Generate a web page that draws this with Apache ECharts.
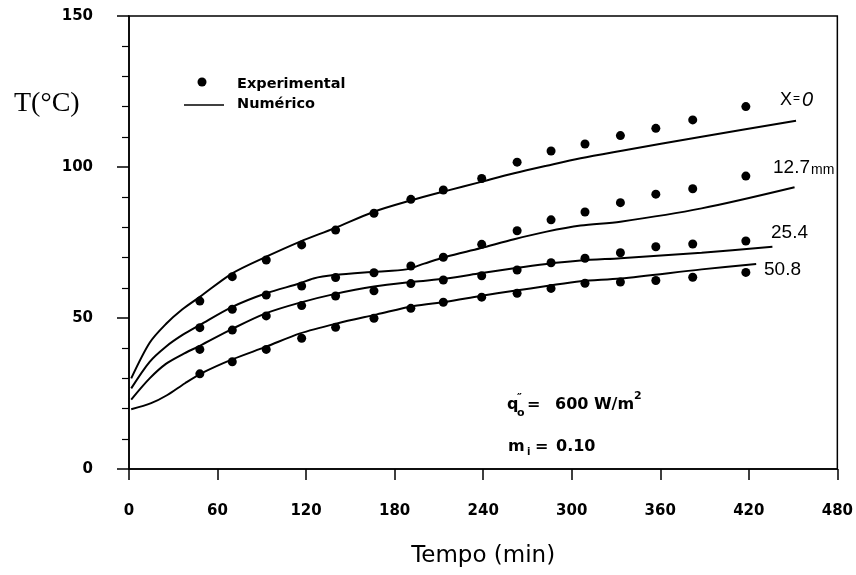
<!DOCTYPE html>
<html>
<head>
<meta charset="utf-8">
<script src="https://cdn.jsdelivr.net/npm/echarts@6/dist/echarts.min.js"></script>
<style>
  html, body { margin: 0; padding: 0; background: #fff; }
  #chart { width: 856px; height: 575px; }
</style>
</head>
<body>
<div id="chart"></div>
<script>
// Measurement times (min) of the experimental points
const expTimes = [48, 70, 93, 117, 140, 166, 191, 213, 239, 263, 286, 309, 333, 357, 382, 418];

// Experimental temperatures (°C) at each depth
const expX0   = [55.6, 63.7, 69.2, 74.2, 79.1, 84.7, 89.3, 92.4, 96.2, 101.6, 105.3, 107.6, 110.4, 112.8, 115.6, 120.0];
const exp127  = [46.8, 52.9, 57.6, 60.6, 63.4, 65.0, 67.2, 70.1, 74.4, 78.9, 82.5, 85.1, 88.2, 91.0, 92.8, 97.0];
const exp254  = [39.6, 46.0, 50.7, 54.1, 57.3, 59.0, 61.4, 62.6, 64.0, 65.9, 68.3, 69.8, 71.6, 73.6, 74.5, 75.5];
const exp508  = [31.5, 35.5, 39.6, 43.3, 46.9, 49.9, 53.2, 55.2, 56.9, 58.2, 59.8, 61.5, 61.9, 62.4, 63.5, 65.1];

// Numerical solution: times (min) and temperatures (°C) per depth
const numTimesX0  = [1.5, 14, 25, 36, 48, 70, 93, 116, 139, 166, 190, 215, 238, 261, 283, 306, 333, 388, 452];
const numX0       = [30.0, 41.8, 48.0, 52.8, 57.0, 64.8, 70.3, 75.3, 79.7, 85.2, 88.8, 92.1, 95.0, 97.9, 100.4, 102.9, 105.3, 110.0, 115.3];
const numTimes127 = [1.5, 14, 25, 36, 48, 70, 93, 116, 125, 139, 166, 188, 200, 215, 238, 261, 283, 306, 333, 388, 451];
const num127      = [26.7, 35.5, 40.5, 44.3, 47.7, 53.7, 58.2, 61.5, 63.1, 64.2, 65.3, 66.1, 68.0, 70.3, 73.1, 76.1, 78.6, 80.6, 81.9, 86.3, 93.3];
const numTimes254 = [1.5, 14, 25, 36, 48, 70, 93, 116, 139, 166, 193, 215, 238, 261, 283, 306, 333, 388, 436];
const num254      = [23.0, 30.0, 34.8, 37.9, 40.8, 46.4, 51.6, 55.1, 57.9, 60.4, 62.0, 63.1, 64.8, 66.5, 67.9, 69.0, 69.8, 71.6, 73.6];
const numTimes508 = [1.5, 15, 26, 38, 50, 70, 93, 116, 141, 168, 193, 215, 238, 261, 283, 306, 333, 388, 425];
const num508      = [19.8, 21.8, 24.5, 28.4, 31.9, 36.3, 40.5, 44.9, 48.2, 51.2, 54.0, 55.4, 57.3, 59.0, 60.6, 62.2, 63.1, 66.1, 67.9];

// Axis ticks
const xTicks = [0, 60, 120, 180, 240, 300, 360, 420, 480];
const yTicks = [0, 50, 100, 150];

const zip = (xs, ys) => xs.map((x, i) => [x, ys[i]]);

const tickFont = { fontFamily: 'DejaVu Sans', fontWeight: 'bold', fontSize: 15, color: '#000' };

function numericSeries(xs, ys) {
  return {
    type: 'line', name: 'Numérico', data: zip(xs, ys),
    showSymbol: false, symbol: 'none', smooth: 0.3,
    lineStyle: { color: '#000', width: 2 }, z: 2, silent: true
  };
}
function experimentalSeries(ys) {
  return {
    type: 'scatter', name: 'Experimental', data: zip(expTimes, ys),
    symbol: 'circle', symbolSize: 9, itemStyle: { color: '#000', opacity: 1 }, z: 3, silent: true
  };
}

const chart = echarts.init(document.getElementById('chart'), null, { renderer: 'canvas' });

const curveLabelFont = 'Liberation Sans Narrow, Liberation Sans, sans-serif';
const annFont = 'DejaVu Sans';

chart.setOption({
  animation: false,
  backgroundColor: '#fff',
  grid: {
    left: 129, right: 18, top: 16, bottom: 106,
    show: true, borderColor: '#000', borderWidth: 1.5, backgroundColor: 'transparent'
  },
  xAxis: {
    type: 'value', min: xTicks[0], max: xTicks[xTicks.length - 1], interval: 60,
    name: 'Tempo (min)', nameLocation: 'middle', nameGap: 76,
    nameTextStyle: { fontFamily: 'DejaVu Sans', fontSize: 23, color: '#000' },
    axisLine: { show: true, onZero: false, lineStyle: { color: '#000', width: 1.5 } },
    axisTick: { show: true, inside: false, length: 11, lineStyle: { color: '#000', width: 1.5 } },
    axisLabel: Object.assign({ margin: 35 }, tickFont),
    splitLine: { show: false }
  },
  yAxis: {
    type: 'value', min: yTicks[0], max: yTicks[yTicks.length - 1], interval: 50,
    axisLine: { show: true, onZero: false, lineStyle: { color: '#000', width: 1.5 } },
    axisTick: { show: true, length: 12, lineStyle: { color: '#000', width: 1.5 } },
    minorTick: { show: true, splitNumber: 5, length: 7, lineStyle: { color: '#000', width: 1.2 } },
    axisLabel: Object.assign({ margin: 36 }, tickFont),
    splitLine: { show: false }
  },
  series: [
    numericSeries(numTimesX0, numX0),
    numericSeries(numTimes127, num127),
    numericSeries(numTimes254, num254),
    numericSeries(numTimes508, num508),
    experimentalSeries(expX0),
    experimentalSeries(exp127),
    experimentalSeries(exp254),
    experimentalSeries(exp508)
  ],
  graphic: [
    // vertical axis title
    { type: 'text', left: 14, top: 90, style: { text: 'T(°C)', font: '28px "Liberation Serif", serif', fill: '#000' } },

    // key
    { type: 'circle', shape: { cx: 202, cy: 82, r: 4.5 }, style: { fill: '#000' } },
    { type: 'text', x: 237, y: 84, style: { text: 'Experimental', font: 'bold 14.5px "DejaVu Sans"', fill: '#000', verticalAlign: 'middle' } },
    { type: 'line', shape: { x1: 184, y1: 105, x2: 224, y2: 105 }, style: { stroke: '#000', lineWidth: 1.3 } },
    { type: 'text', x: 237, y: 104, style: { text: 'Numérico', font: 'bold 14.5px "DejaVu Sans"', fill: '#000', verticalAlign: 'middle' } },

    // curve labels
    { type: 'text', x: 780, y: 100, style: { text: 'X', font: '18px ' + curveLabelFont, fill: '#000', verticalAlign: 'middle' } },
    { type: 'text', x: 793, y: 99, style: { text: '=', font: '12px ' + curveLabelFont, fill: '#000', verticalAlign: 'middle' } },
    { type: 'text', x: 802, y: 100, style: { text: '0', font: 'italic 20px ' + curveLabelFont, fill: '#000', verticalAlign: 'middle' } },
    { type: 'text', x: 773, y: 168, style: { text: '12.7{s|mm}', font: '19px ' + curveLabelFont, fill: '#000', verticalAlign: 'middle',
        rich: { s: { fontSize: 14, fontFamily: curveLabelFont, padding: [4, 0, 0, 1] } } } },
    { type: 'text', x: 771, y: 233, style: { text: '25.4', font: '19px ' + curveLabelFont, fill: '#000', verticalAlign: 'middle' } },
    { type: 'text', x: 764, y: 270, style: { text: '50.8', font: '19px ' + curveLabelFont, fill: '#000', verticalAlign: 'middle' } },

    // heat flux annotation
    { type: 'text', x: 507, y: 405, style: { text: 'q', font: 'bold 16px "' + annFont + '"', fill: '#000', verticalAlign: 'middle' } },
    { type: 'text', x: 517, y: 413, style: { text: 'o', font: 'bold 11px "' + annFont + '"', fill: '#000', verticalAlign: 'middle' } },
    { type: 'text', x: 517, y: 398, style: { text: '″', font: 'bold 11px "' + annFont + '"', fill: '#000', verticalAlign: 'middle' } },
    { type: 'text', x: 527, y: 405, style: { text: '=', font: 'bold 16px "' + annFont + '"', fill: '#000', verticalAlign: 'middle' } },
    { type: 'text', x: 555, y: 405, style: { text: '600 W/m', font: 'bold 16px "' + annFont + '"', fill: '#000', verticalAlign: 'middle' } },
    { type: 'text', x: 634, y: 396, style: { text: '2', font: 'bold 11px "' + annFont + '"', fill: '#000', verticalAlign: 'middle' } },

    // initial moisture annotation
    { type: 'text', x: 508, y: 447, style: { text: 'm', font: 'bold 16px "' + annFont + '"', fill: '#000', verticalAlign: 'middle' } },
    { type: 'text', x: 527, y: 452, style: { text: 'i', font: 'bold 10px "' + annFont + '"', fill: '#000', verticalAlign: 'middle' } },
    { type: 'text', x: 535, y: 447, style: { text: '=', font: 'bold 16px "' + annFont + '"', fill: '#000', verticalAlign: 'middle' } },
    { type: 'text', x: 556, y: 447, style: { text: '0.10', font: 'bold 16px "' + annFont + '"', fill: '#000', verticalAlign: 'middle' } }
  ]
});
</script>
</body>
</html>
